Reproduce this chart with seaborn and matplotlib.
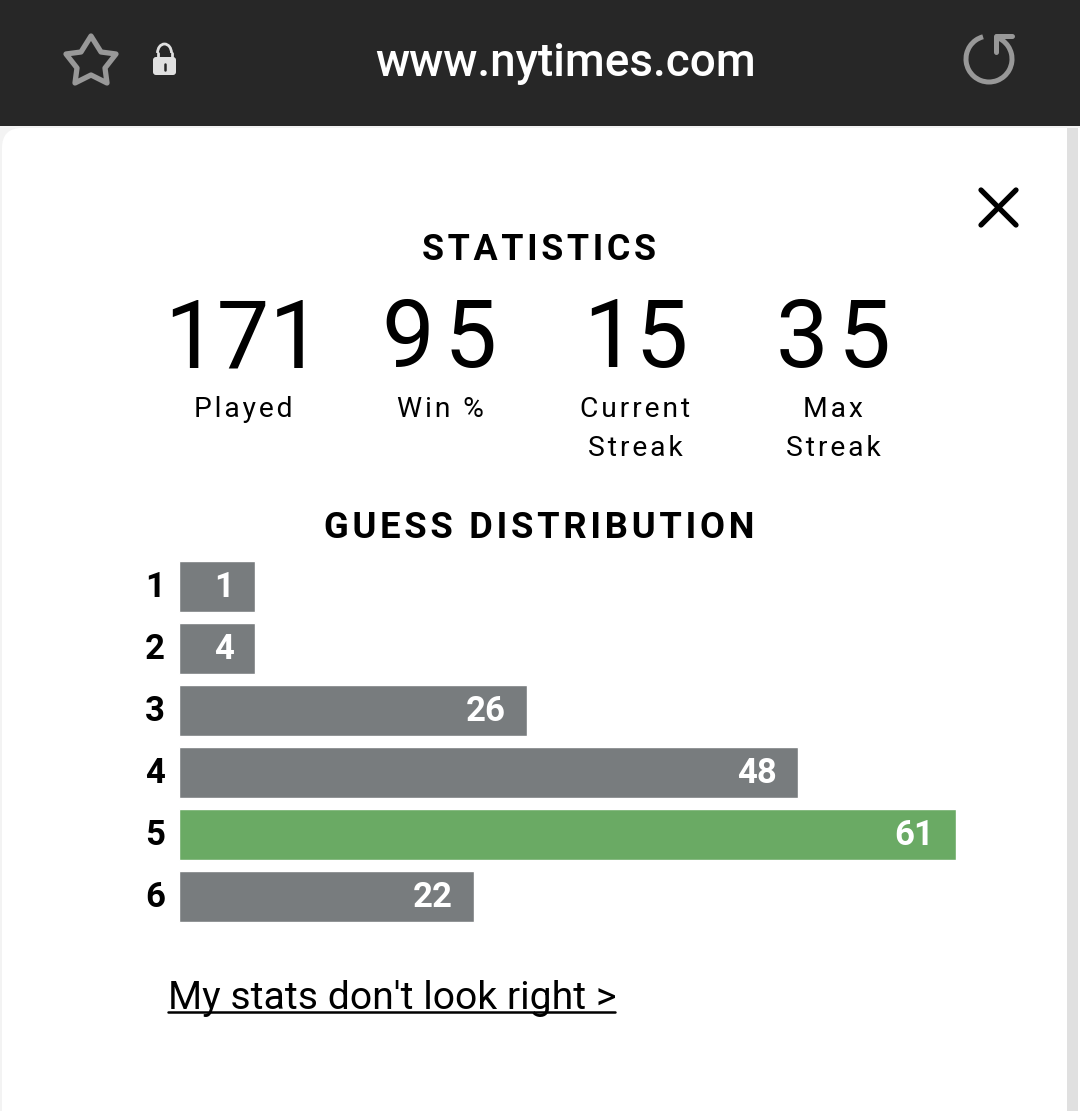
# coding: utf-8
# wordle statistics screen, the browser bar and icons are drawn on a pixel sized backdrop

import numpy as np
import pandas as pd
import matplotlib.pyplot as plt
import seaborn as sns
from matplotlib.patches import FancyBboxPatch, Rectangle, Polygon, Arc
from matplotlib.transforms import ScaledTranslation

guess_labels = ['1', '2', '3', '4', '5', '6']
guess_counts = [1, 4, 26, 48, 61, 22]
# bar length as percent of the longest bar, the game gives small counts a minimum length
bar_lengths = [9.8, 9.8, 44.8, 79.7, 100, 38.0]
stat_values = ['171', '95', '15', '35']
stat_names = ['Played', 'Win %', 'Current\nStreak', 'Max\nStreak']

sns.set_theme(style='white')
plt.rcParams['font.family'] = ['Roboto', 'DejaVu Sans']


def tracked(s):
    # matplotlib has no letter spacing, so hair spaces between the letters
    return '\u200a'.join(s)


W, H = 1080, 1111
fig = plt.figure(figsize=(W / 100, H / 100), dpi=100, facecolor='white')

bg = fig.add_axes([0, 0, 1, 1])
bg.set_xlim(0, W)
bg.set_ylim(H, 0)
bg.axis('off')

# browser bar, page card and scrollbar
bg.add_patch(Rectangle((0, 0), W, 126, color='#272727', lw=0))
bg.add_patch(Rectangle((0, 126), W, H - 126, color='#f3f3f3', lw=0))
bg.add_patch(FancyBboxPatch((22, 148), 1100, 1000, boxstyle='round,pad=20,rounding_size=20',
                            fc='white', ec='none'))
bg.add_patch(Rectangle((1067, 128), 11, H - 128, color='#e0e0e0', lw=0))
bg.add_patch(Rectangle((1078, 128), 2, H - 128, color='white', lw=0))

star = [(91, 36), (101, 52), (116, 54), (105, 68), (107, 83), (91, 75), (75, 83), (77, 68), (66, 54), (81, 52)]
bg.add_patch(Polygon(star, closed=True, fc='none', ec='#989898', lw=3.8, joinstyle='round'))

bg.add_patch(FancyBboxPatch((155, 59), 19, 14, boxstyle='round,pad=2,rounding_size=3', fc='#e0e0e0', ec='none'))
bg.add_patch(Arc((164.5, 53), 14, 18, theta1=180, theta2=360, ec='#e0e0e0', lw=2))
bg.plot([157.5, 157.5], [53, 58], color='#e0e0e0', lw=2)
bg.plot([171.5, 171.5], [53, 58], color='#e0e0e0', lw=2)
bg.plot([164.5, 164.5], [64, 70], color='#272727', lw=1.8)

bg.add_patch(Arc((989, 59), 46, 46, theta1=-75, theta2=255, ec='#989898', lw=3.6))
bg.plot([996, 996, 1012], [52, 36, 36], color='#989898', lw=3.6, solid_joinstyle='round')

bg.plot([981, 1016], [190, 225], color='black', lw=3.8)
bg.plot([981, 1016], [225, 190], color='black', lw=3.8)

# texts
bg.text(565.5, 76, 'www.nytimes.com', color='white', fontsize=33, fontweight='medium', ha='center', va='baseline')
bg.text(539.5, 260, tracked('STATISTICS'), color='black', fontsize=25.8, fontweight='bold', ha='center', va='baseline')
bg.text(539.5, 538, tracked('GUESS DISTRIBUTION'), color='black', fontsize=26.2, fontweight='bold', ha='center', va='baseline')

for x, val, name in zip([243.5, 440, 635.5, 833], stat_values, stat_names):
    shown = tracked(val) if val in ('95', '35') else val
    bg.text(x, 367, shown, color='black', fontsize=67.5, ha='center', va='baseline')
    bg.text(x, 417, tracked(name.split('\n')[0]), color='black', fontsize=20.3, ha='center', va='baseline')
    if '\n' in name:
        bg.text(x, 456.5, tracked(name.split('\n')[1]), color='black', fontsize=20.3, ha='center', va='baseline')

bg.text(168, 1009, "My stats don't look right >", color='black', fontsize=28.2, ha='left', va='baseline')
bg.plot([168, 615], [1012, 1012], color='black', lw=1.8)

# guess bars
df = pd.DataFrame({'guess': guess_labels, 'length': bar_lengths})
colors = ['#6aaa64' if c == max(guess_counts) else '#787c7e' for c in guess_counts]

top, bottom, left, right = 555.5, 927, 179, 956
ax = fig.add_axes([left / W, 1 - bottom / H, (right - left) / W, (bottom - top) / H])
ax.patch.set_alpha(0)
sns.barplot(data=df, x='length', y='guess', hue='guess', palette=colors, legend=False,
            width=0.825, saturation=1, ax=ax)
ax.set_xlim(0, 100)
ax.set_xlabel('')
ax.set_ylabel('')
ax.set_xticks([])
sns.despine(ax=ax, left=True, bottom=True)
ax.tick_params(axis='y', length=0, pad=10)
nudge = ScaledTranslation(0, 0.02, fig.dpi_scale_trans)
for t in ax.get_yticklabels():
    t.set_fontsize(25)
    t.set_fontweight('bold')
    t.set_color('black')
    t.set_transform(t.get_transform() + nudge)

for bars, count in zip(ax.containers, guess_counts):
    for lab in ax.bar_label(bars, labels=[str(count)], padding=-15.5, color='white',
                            fontsize=25, fontweight='bold'):
        lab.set_ha('right')
        lab.xyann = (lab.xyann[0], lab.xyann[1] - 0.7)

plt.savefig('out.png', dpi=100)
